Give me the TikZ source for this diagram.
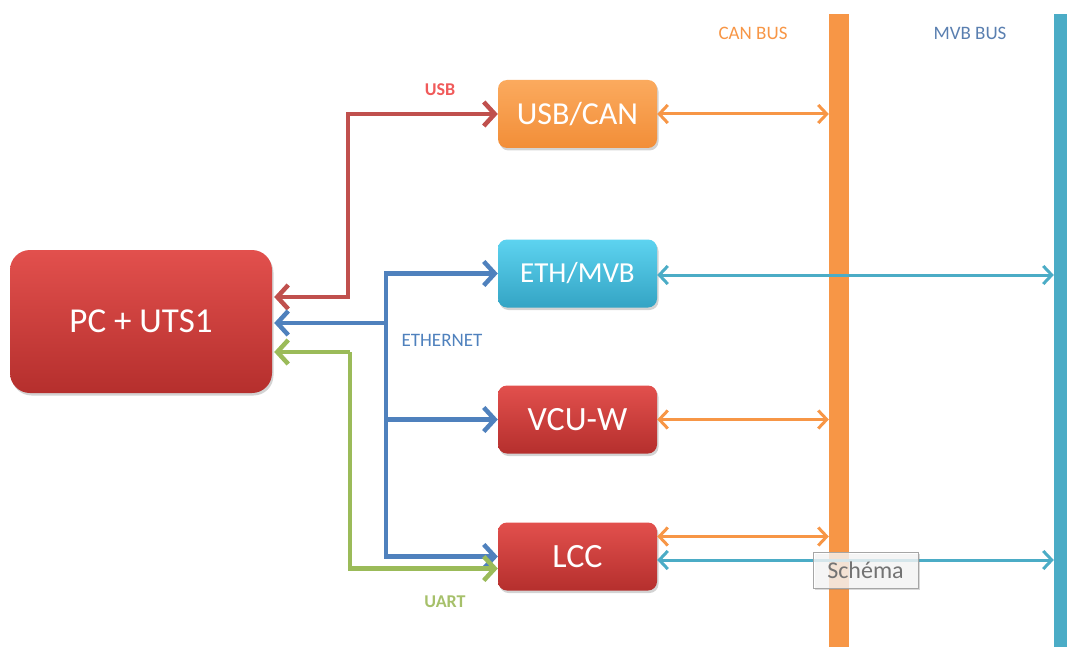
\documentclass[tikz,border=0pt]{standalone}
\usepackage{fontspec}
\setmainfont{Carlito}
\usetikzlibrary{arrows.meta,shadows}
\definecolor{redtop}{HTML}{E2504D}
\definecolor{redbot}{HTML}{B52F2D}
\definecolor{orgtop}{HTML}{FBAA5E}
\definecolor{orgbot}{HTML}{F28E38}
\definecolor{tealtop}{HTML}{5DD3F0}
\definecolor{tealbot}{HTML}{34A4C4}
\definecolor{cRed}{HTML}{C0504D}
\definecolor{cBlue}{HTML}{4F81BD}
\definecolor{cGreen}{HTML}{9BBB59}
\definecolor{cOrange}{HTML}{F79646}
\definecolor{cTeal}{HTML}{4BACC6}
\definecolor{lblRed}{HTML}{F05A5A}
\definecolor{lblMvb}{HTML}{5A7FB0}
\definecolor{lblGreen}{HTML}{A6C06A}
\tikzset{
  devbox/.style={rounded corners=9pt, minimum width=159pt, minimum height=68pt,
    text=white, font=\fontsize{32}{32}\selectfont,
    drop shadow={shadow xshift=1.5pt, shadow yshift=-2.5pt, opacity=0.35}},
  redshade/.style={top color=redtop, bottom color=redbot},
  orgshade/.style={top color=orgtop, bottom color=orgbot},
  tealshade/.style={top color=tealtop, bottom color=tealbot},
  fat/.style={line width=4.5pt, arrows={-Straight Barb[length=11pt,width=24pt]}},
  fatboth/.style={line width=4.5pt, arrows={Straight Barb[length=11pt,width=24pt]-Straight Barb[length=11pt,width=24pt]}},
  thin/.style={line width=3pt, arrows={Straight Barb[length=8.5pt,width=18pt]-Straight Barb[length=8.5pt,width=18pt]}},
  bar/.style={minimum width=20pt, minimum height=633pt, anchor=north, inner sep=0pt},
  lbl/.style={font=\fontsize{19}{19}\selectfont},
  lblb/.style={font=\fontsize{18}{18}\selectfont\bfseries},
}
\begin{document}
\begin{tikzpicture}[x=1pt,y=-1pt]
\useasboundingbox (0,0) rectangle (1067,647);
% buses
\node[bar, fill=cOrange] (can) at (839,14) {};
\node[bar, fill=cTeal, minimum width=22pt] (mvb) at (1065,14) {};
\node[lbl, text=cOrange] (canlbl) at (753,33) {CAN BUS};
\node[lbl, text=lblMvb] (mvblbl) at (970,33) {MVB BUS};
% boxes
\node[devbox, redshade, rounded corners=20pt, minimum width=262pt, minimum height=143pt,
  font=\fontsize{35}{35}\selectfont] (pc) at (141,321.5) {PC + UTS1};
\node[devbox, orgshade] (usbcan) at (577.5,114) {USB/CAN};
\node[devbox, tealshade, font=\fontsize{29}{29}\selectfont] (eth) at (577.5,273.5) {ETH/MVB};
\node[devbox, redshade, font=\fontsize{34}{34}\selectfont] (vcu) at (577.5,419.5) {VCU-W};
\node[devbox, redshade, font=\fontsize{34}{34}\selectfont] (lcc) at (577.5,556.5) {LCC};
% junction coordinates
\coordinate (rj) at (348,297);
\coordinate (bj) at (386,323);
\coordinate (gj) at (350,352);
% USB (red)
\draw[cRed, fatboth] ([xshift=2pt]pc.east |- rj) -- (rj) |- (usbcan.west);
% Ethernet (blue)
\draw[cBlue, fat] (bj) -- ([xshift=2pt]pc.east |- bj);
\draw[cBlue, fat] (bj) |- (eth.west);
\draw[cBlue, fat] (bj) |- (vcu.west);
\draw[cBlue, fat] (bj) |- (lcc.west);
% UART (green)
\draw[cGreen, fat] (gj) -- ([xshift=2pt]pc.east |- gj);
\draw[cGreen, fat] (gj) |- ([yshift=-12pt]lcc.west);
% labels
\node[lblb, text=lblRed] (usblbl) at (440,90) {USB};
\node[lbl, text=cBlue] (ethlbl) at (442,340) {ETHERNET};
\node[lblb, text=lblGreen] (uartlbl) at (445,602) {UART};
% CAN links
\draw[cOrange, thin] (usbcan.east) -- (usbcan.east -| can.west);
\draw[cOrange, thin] (vcu.east) -- (vcu.east -| can.west);
\draw[cOrange, thin] ([yshift=20pt]lcc.east) -- ([yshift=20pt]lcc.east -| can.west);
% MVB links
\draw[cTeal, thin] ([yshift=-1.5pt]eth.east) -- ([yshift=-1.5pt]eth.east -| mvb.west);
\draw[cTeal, thin] ([yshift=-3.5pt]lcc.east) -- ([yshift=-3.5pt]lcc.east -| mvb.west);
% tooltip
\node[draw=gray!70, fill=white, fill opacity=0.75, text opacity=1, text=gray!110,
  minimum width=105pt, minimum height=36pt, inner sep=0pt,
  font=\fontsize{24}{24}\selectfont,
  drop shadow={shadow xshift=2pt, shadow yshift=-2pt, opacity=0.3}] (tip) at (865.5,570) {Schéma};
\end{tikzpicture}
\end{document}
